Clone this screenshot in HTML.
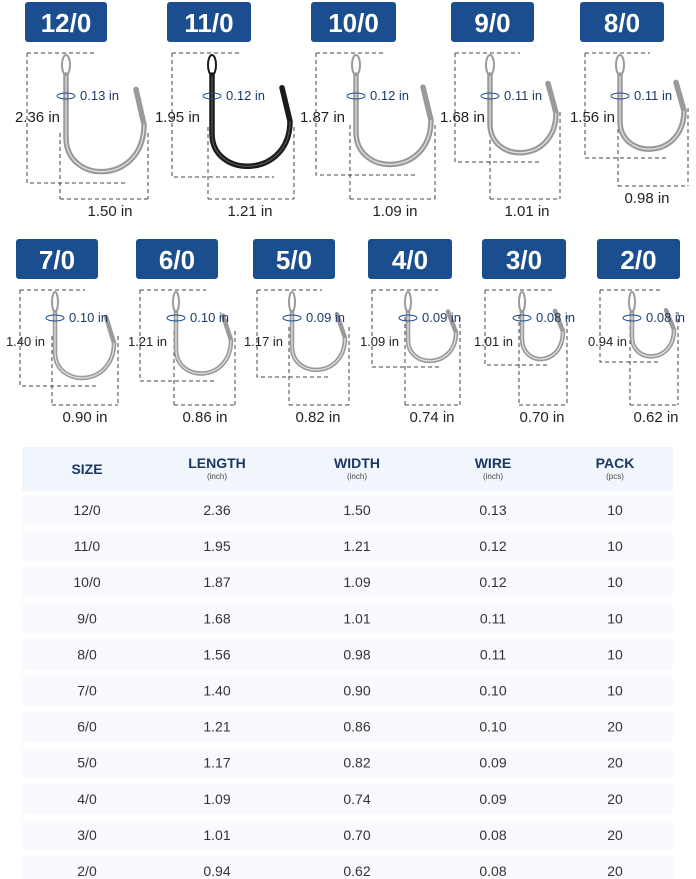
<!DOCTYPE html>
<html><head><meta charset="utf-8"><style>
body{margin:0;width:696px;height:879px;background:#fff;overflow:hidden;font-family:"Liberation Sans",sans-serif;}
#wrap{position:relative;width:696px;height:879px;}
svg{position:absolute;left:0;top:0;}
</style></head><body><div id="wrap">
<svg id="s" width="696" height="879" xmlns="http://www.w3.org/2000/svg"></svg>
</div>
<script>
const s=document.getElementById('s');let h='';
h+='<rect x="22" y="447" width="651" height="44" fill="#f1f6fc"/>';
const rows=[["12/0","2.36","1.50","0.13","10"],["11/0","1.95","1.21","0.12","10"],["10/0","1.87","1.09","0.12","10"],["9/0","1.68","1.01","0.11","10"],["8/0","1.56","0.98","0.11","10"],["7/0","1.40","0.90","0.10","10"],["6/0","1.21","0.86","0.10","20"],["5/0","1.17","0.82","0.09","20"],["4/0","1.09","0.74","0.09","20"],["3/0","1.01","0.70","0.08","20"],["2/0","0.94","0.62","0.08","20"]];
const cx=[87,217,357,493,615];
rows.forEach((r,i)=>{const y=510+i*36.1;h+=`<rect x="22" y="${y-15}" width="651" height="30" fill="#f8fafd"/>`;
r.forEach((t,j)=>h+=`<text x="${cx[j]}" y="${y+5}" font-size="14" fill="#333" text-anchor="middle">${t}</text>`);});
const hd=[["SIZE",""],["LENGTH","(inch)"],["WIDTH","(inch)"],["WIRE","(inch)"],["PACK","(pcs)"]];
hd.forEach((t,j)=>{if(!t[1])h+=`<text x="${cx[j]}" y="474" font-size="14" font-weight="bold" fill="#1c3760" text-anchor="middle">${t[0]}</text>`;
else{h+=`<text x="${cx[j]}" y="468" font-size="14" font-weight="bold" fill="#1c3760" text-anchor="middle">${t[0]}</text><text x="${cx[j]}" y="479" font-size="8" fill="#444" text-anchor="middle">${t[1]}</text>`;}});
const H=[
["12/0",25,107,2,27,53,183,66,60,148,199,"2.36",60,117,"1.50",110,211,"0.13",96,4],
["11/0",167,251,2,172,53,177,212,208,294,199,"1.95",200,117,"1.21",250,211,"0.12",96,4],
["10/0",311,396,2,316,53,175,356,350,435,199,"1.87",345,117,"1.09",395,211,"0.12",96,4],
["9/0",451,534,2,455,53,162,490,490,560,199,"1.68",485,117,"1.01",527,211,"0.11",96,4],
["8/0",580,664,2,585,53,158,620,618,688,186,"1.56",615,117,"0.98",647,198,"0.11",96,4],
["7/0",16,98,239,20,290,386,55,52,118,405,"1.40",45,341,"0.90",85,417,"0.10",318,3],
["6/0",136,218,239,140,290,381,176,174,235,405,"1.21",167,341,"0.86",205,417,"0.10",318,3],
["5/0",253,335,239,257,290,377,292,289,349,405,"1.17",283,341,"0.82",318,417,"0.09",318,3],
["4/0",368,452,239,372,290,367,408,405,460,405,"1.09",399,341,"0.74",432,417,"0.09",318,3],
["3/0",482,566,239,485,290,365,522,519,567,405,"1.01",513,341,"0.70",542,417,"0.08",318,3],
["2/0",597,680,239,600,290,362,632,630,678,405,"0.94",627,341,"0.62",656,417,"0.08",318,3]];
H.forEach((k,i)=>{const[n,bx1,bx2,by,L,T,B,sx,wl,wr,wy,lt,lx,ly,wt,wx,wly,wit,wiy,sw]=k;
h+=`<rect x="${bx1}" y="${by}" width="${bx2-bx1}" height="40" rx="3" fill="#1b4e8e"/><text x="${(bx1+bx2)/2}" y="${by+30}" font-size="26" font-weight="bold" fill="#fff" text-anchor="middle">${n}</text>`;
const d='stroke="#444" stroke-width="1" stroke-dasharray="4,3" fill="none"';
h+=`<path d="M${L} ${T}H${sx+30}M${L} ${T}V${B}H${wr-20}M${wl} ${B-50}V${wy}M${wr} ${B-50}V${wy}M${wl} ${wy}H${wr}" ${d}/>`;
const hh=B-T,col=i==1?'#1a1a1a':'#9a9a9a',w=sw+1.5;
h+=`<path d="M${sx} ${T+22}L${sx} ${B-hh*0.35}C${sx} ${B+2} ${wr-4} ${B+2} ${wr-4} ${B-hh*0.45}L${wr-12} ${B-hh*0.72}" stroke="${col}" stroke-width="${w}" fill="none" stroke-linecap="round"/>`;
h+=`<path d="M${sx} ${T+22}L${sx} ${B-hh*0.35}C${sx} ${B+2} ${wr-4} ${B+2} ${wr-4} ${B-hh*0.45}" stroke="${i==1?'#555':'#e4e4e4'}" stroke-width="1.2" fill="none"/>`;
h+=`<ellipse cx="${sx}" cy="${T+12}" rx="${sw}" ry="10" stroke="${col}" stroke-width="2" fill="none"/>`;
h+=`<ellipse cx="${sx}" cy="${wiy}" rx="9" ry="3" stroke="#1b4e8e" stroke-width="1" fill="none"/>`;
const fs=sw==4?15:13;
h+=`<text x="${sx+14}" y="${wiy+4}" font-size="13" fill="#1b3a66">${wit} in</text>`;
h+=`<text x="${lx}" y="${ly+5}" font-size="${fs}" fill="#222" text-anchor="end">${lt} in</text>`;
h+=`<text x="${wx}" y="${wly+5}" font-size="15" fill="#222" text-anchor="middle">${wt} in</text>`;});
s.innerHTML=h;
</script></body></html>
